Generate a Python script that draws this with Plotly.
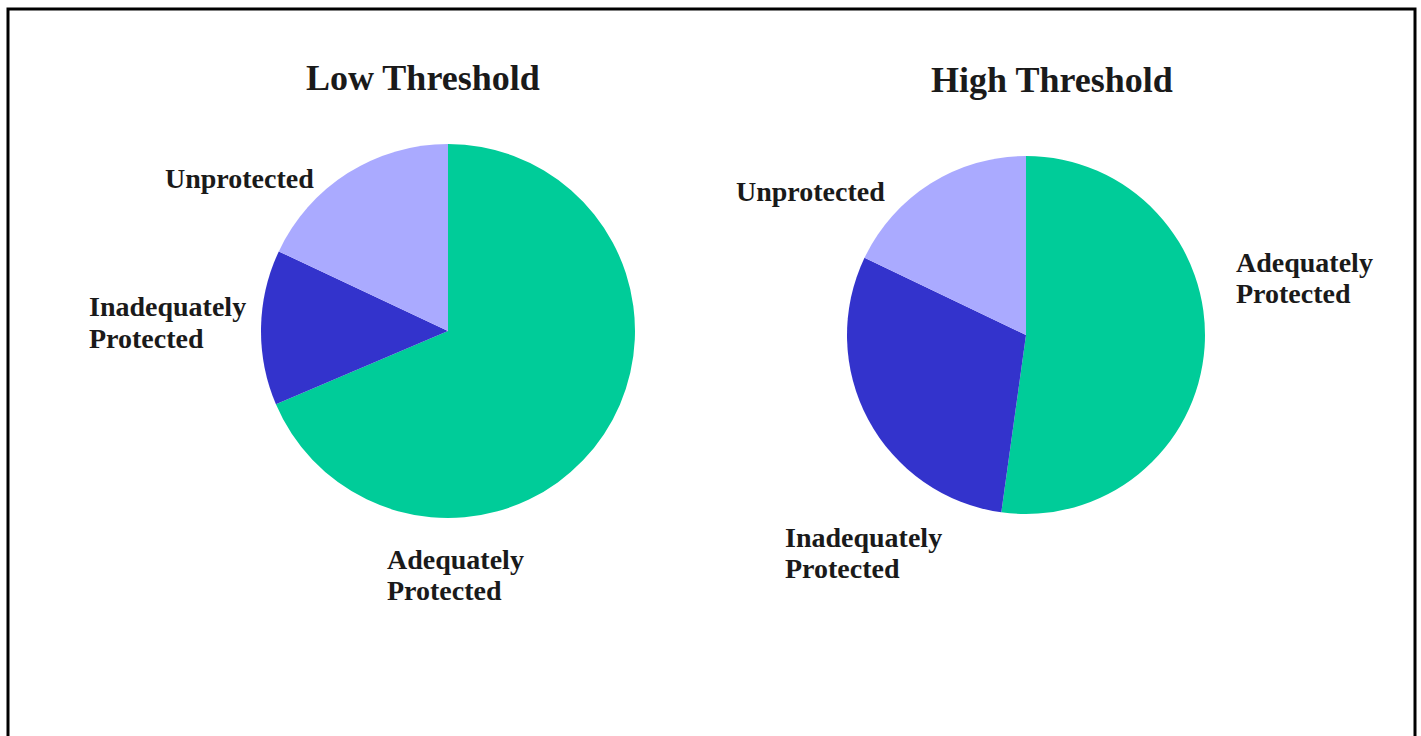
import plotly.graph_objects as go

W, H = 1421, 736

labels = ["Adequately Protected", "Inadequately Protected", "Unprotected"]
low_values = [68.6, 13.4, 18.0]
high_values = [52.2, 29.9, 17.9]
titles = ["Low Threshold", "High Threshold"]
colors = ["#00CC99", "#3333CC", "#AAAAFF"]

FONT = "Liberation Serif"


def px(x):
    return x / W


def py(y):
    return 1 - y / H


fig = go.Figure()

# left pie: center (448, 331), radius 187
fig.add_trace(go.Pie(
    labels=labels, values=low_values, sort=False, direction="clockwise",
    rotation=0, textinfo="none", hoverinfo="label+percent",
    marker=dict(colors=colors, line=dict(width=0)),
    domain=dict(x=[px(261), px(635)], y=[py(518), py(144)]),
    showlegend=False,
))
# right pie: center (1026, 335), radius 179
fig.add_trace(go.Pie(
    labels=labels, values=high_values, sort=False, direction="clockwise",
    rotation=0, textinfo="none", hoverinfo="label+percent",
    marker=dict(colors=colors, line=dict(width=0)),
    domain=dict(x=[px(847), px(1205)], y=[py(514), py(156)]),
    showlegend=False,
))

ann = []
title_font = dict(family=FONT, size=36, color="#1a1a1a")
label_font = dict(family=FONT, size=28, color="#1a1a1a")

ann.append(dict(text="<b>%s</b>" % titles[0], x=px(423), y=py(78), xref="paper", yref="paper",
                xanchor="center", yanchor="middle", showarrow=False, font=title_font))
ann.append(dict(text="<b>%s</b>" % titles[1], x=px(1052), y=py(80), xref="paper", yref="paper",
                xanchor="center", yanchor="middle", showarrow=False, font=title_font))

# label lines: (text, left x, middle y) in pixels
label_lines = [
    ("Unprotected", 163, 179),
    ("Inadequately", 87, 306),
    ("Protected", 87, 338),
    ("Adequately", 385, 559),
    ("Protected", 385, 590),
    ("Unprotected", 734, 191),
    ("Inadequately", 783, 537),
    ("Protected", 783, 568),
    ("Adequately", 1234, 262),
    ("Protected", 1234, 293),
]
for t, x, y in label_lines:
    ann.append(dict(text="<b>%s</b>" % t, x=px(x), y=py(y), xref="paper", yref="paper",
                    xanchor="left", yanchor="middle", align="left", showarrow=False,
                    font=label_font))

fig.update_layout(
    width=W, height=H,
    margin=dict(l=0, r=0, t=0, b=0),
    paper_bgcolor="white", plot_bgcolor="white",
    annotations=ann,
    shapes=[dict(type="rect", xref="paper", yref="paper",
                 x0=px(8), x1=px(1415), y0=-0.05, y1=py(9),
                 line=dict(color="black", width=3))],
)

fig.write_html("out.html")
